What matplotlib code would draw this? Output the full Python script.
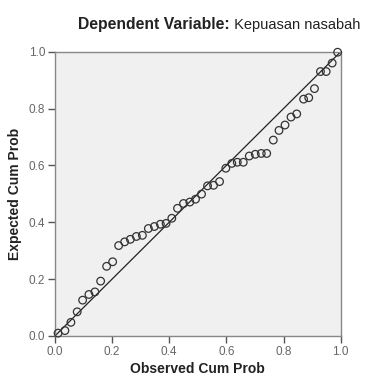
import matplotlib
matplotlib.use('Agg')
from matplotlib import pyplot as plt

plt.rcParams['font.family'] = ['Liberation Sans', 'DejaVu Sans']

# observed / expected cumulative probabilities
observed = [0.011, 0.035, 0.056, 0.078, 0.097, 0.119, 0.140, 0.160, 0.181, 0.202,
            0.223, 0.244, 0.264, 0.285, 0.306, 0.327, 0.348, 0.369, 0.389, 0.409,
            0.429, 0.450, 0.472, 0.492, 0.513, 0.534, 0.555, 0.576, 0.598, 0.619,
            0.638, 0.659, 0.680, 0.701, 0.722, 0.741, 0.764, 0.784, 0.805, 0.826,
            0.846, 0.870, 0.888, 0.908, 0.929, 0.949, 0.970, 0.989]
expected = [0.010, 0.019, 0.048, 0.085, 0.126, 0.146, 0.155, 0.193, 0.245, 0.261,
            0.318, 0.331, 0.340, 0.350, 0.354, 0.378, 0.385, 0.393, 0.396, 0.414,
            0.449, 0.466, 0.471, 0.481, 0.499, 0.528, 0.530, 0.543, 0.590, 0.607,
            0.611, 0.611, 0.633, 0.639, 0.642, 0.642, 0.689, 0.723, 0.742, 0.770,
            0.781, 0.833, 0.838, 0.870, 0.930, 0.930, 0.960, 0.998]
ticks = [0.0, 0.2, 0.4, 0.6, 0.8, 1.0]

fig = plt.figure(figsize=(3.66, 3.79), dpi=100)
ax = fig.add_axes([0.150, 0.1135, 0.781, 0.7502])
ax.set_facecolor('#f0f0f0')

ax.plot([0, 1], [0, 1], color='#222222', lw=0.9, zorder=2)
ax.scatter(observed, expected, s=30, facecolors='none', edgecolors='#333333',
           linewidths=0.9, zorder=3, clip_on=False)

ax.set_xlim(0, 1)
ax.set_ylim(0, 1)
ax.set_xticks(ticks)
ax.set_yticks(ticks)
ax.set_xticklabels(['{:.1f}'.format(t) for t in ticks])
ax.set_yticklabels(['{:.1f}'.format(t) for t in ticks])
ax.tick_params(direction='out', length=5, width=1, color='#555555',
               labelcolor='#666666', labelsize=8.5, pad=2)
for s in ax.spines.values():
    s.set_color('#888888')
    s.set_linewidth(1)

ax.set_xlabel('Observed Cum Prob', fontsize=10, fontweight='bold', color='#222222', labelpad=3)
ax.set_ylabel('Expected Cum Prob', fontsize=10, fontweight='bold', color='#222222', labelpad=5)

t = fig.text(78 / 366, 1 - 24 / 379, 'Dependent Variable:', fontsize=11.3,
             fontweight='bold', color='#222222', ha='left', va='center')
ax.annotate(' Kepuasan nasabah', xy=(1, 0), xycoords=t, fontsize=10.5,
            color='#222222', ha='left', va='bottom')

fig.savefig('out.png', dpi=100)
